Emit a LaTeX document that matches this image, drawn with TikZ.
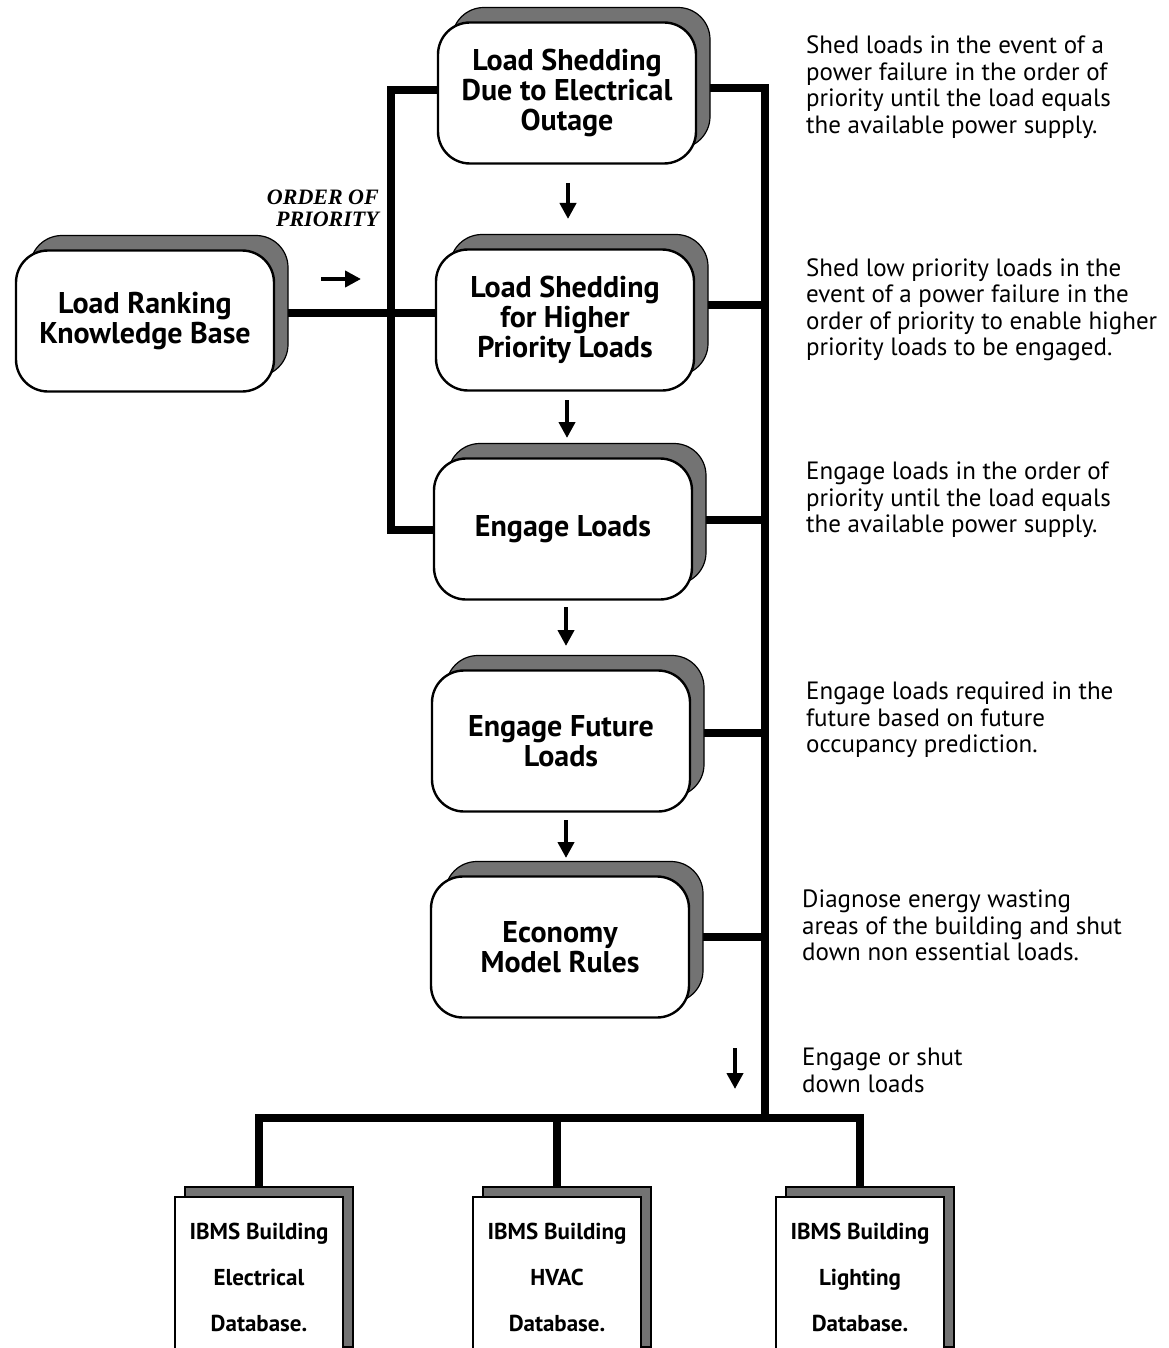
\documentclass[tikz,border=0pt]{standalone}
\usepackage{fontspec}
\setmainfont{PT Sans}
\newfontfamily\labelserif{Liberation Serif}
\usetikzlibrary{shadows,backgrounds,arrows.meta}
\begin{document}
\begin{tikzpicture}[x=1pt,y=-1pt,
  task/.style={draw=black, line width=2.4pt, fill=white, rounded corners=32pt,
    minimum width=258pt, minimum height=141pt, align=center, inner sep=0pt,
    font=\fontsize{30}{30}\selectfont\bfseries,
    copy shadow={shadow xshift=14pt, shadow yshift=15pt, fill=black!55, draw=black, line width=1.2pt}},
  dbase/.style={draw=black, line width=2.4pt, fill=white, minimum width=168pt,
    minimum height=160pt, align=center, inner sep=0pt,
    font=\fontsize{23}{46}\selectfont\bfseries,
    copy shadow={shadow xshift=10pt, shadow yshift=10pt, fill=black!55, draw=black, line width=1.2pt}},
  note/.style={anchor=north west, align=left, inner sep=0pt,
    font=\fontsize{25}{26.5}\selectfont},
  bus/.style={line width=8pt, line cap=rect, line join=miter},
  darr/.style={line width=4pt, -{Triangle[width=16pt,length=16pt]}},
]
\useasboundingbox (0,0) rectangle (1168,1348);

% rule boxes
\node[task] (b1) at (567,93)  {Load Shedding\\Due to Electrical\\Outage};
\node[task] (b2) at (565,320) {Load Shedding\\for Higher\\Priority Loads};
\node[task] (b3) at (563,529) {Engage Loads};
\node[task] (b4) at (561,741) {Engage Future\\Loads};
\node[task] (b5) at (560,947) {Economy\\Model Rules};
\node[task] (kb) at (145,321) {Load Ranking\\Knowledge Base};

% building databases
\node[dbase] (d1) at (259,1277) {IBMS Building\\Electrical\\Database.};
\node[dbase] (d2) at (557,1277) {IBMS Building\\HVAC\\Database.};
\node[dbase] (d3) at (860,1277) {IBMS Building\\Lighting\\Database.};

% bus coordinates
\coordinate (lt) at (391,0);
\coordinate (bus) at (765,1118);

\begin{pgfonlayer}{background}
  \draw[bus] (kb.east |- 0,313) -- (b2.west |- 0,313);
  \draw[bus] (b1.west |- 0,90) -| (lt |- 0,530) -- (b3.west |- 0,530);
  \draw[bus] (b1.east |- 0,88) -| (bus);
  \draw[bus] (b2.east |- 0,305) -- (bus |- 0,305);
  \draw[bus] (b3.east |- 0,520) -- (bus |- 0,520);
  \draw[bus] (b4.east |- 0,733) -- (bus |- 0,733);
  \draw[bus] (b5.east |- 0,937) -- (bus |- 0,937);
  \draw[bus] (d1.north) |- (bus) -| (d3.north);
  \draw[bus] (d2.north) -- (d2.north |- bus);
\end{pgfonlayer}

% direction arrows
\coordinate (a1s) at (568,183); \coordinate (a1e) at (568,219);
\coordinate (a2s) at (567,400); \coordinate (a2e) at (567,438);
\coordinate (a3s) at (566,607); \coordinate (a3e) at (566,646);
\coordinate (a4s) at (566,820); \coordinate (a4e) at (566,858);
\coordinate (a5s) at (735,1048); \coordinate (a5e) at (735,1089);
\coordinate (a6s) at (321,279); \coordinate (a6e) at (361,279);
\foreach \k in {1,...,6} \draw[darr] (a\k s) -- (a\k e);

\node[anchor=east, align=right, inner sep=0pt,
  font=\labelserif\fontsize{22}{22}\selectfont\bfseries\itshape] (op) at (379,208)
  {ORDER OF\\PRIORITY};

% explanations
\node[note] (n1) at (806,36) {Shed loads in the event of a\\power failure in the order of\\priority until the load equals\\the available power supply.};
\node[note] (n2) at (806,258) {Shed low priority loads in the\\event of a power failure in the\\order of priority to enable higher\\priority loads to be engaged.};
\node[note] (n3) at (806,462) {Engage loads in the order of\\priority until the load equals\\the available power supply.};
\node[note] (n4) at (806,682) {Engage loads required in the\\future based on future\\occupancy prediction.};
\node[note] (n5) at (802,890) {Diagnose energy wasting\\areas of the building and shut\\down non essential loads.};
\node[note] (n6) at (802,1048) {Engage or shut\\down loads};
\end{tikzpicture}
\end{document}
